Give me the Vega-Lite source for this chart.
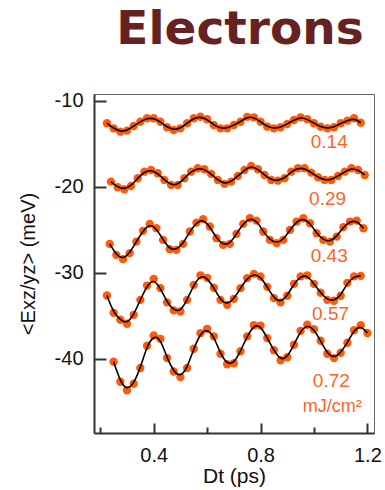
{
  "$schema": "https://vega.github.io/schema/vega-lite/v6.json",
  "width": 280,
  "height": 339,
  "autosize": {"type": "none"},
  "padding": {"left": 94, "top": 94, "right": 11, "bottom": 57},
  "background": "white",
  "title": {
    "text": "Electrons",
    "font": "DejaVu Sans",
    "fontSize": 47,
    "fontWeight": "bold",
    "color": "#662222",
    "anchor": "middle",
    "baseline": "alphabetic",
    "dx": 6,
    "offset": 0
  },
  "config": {
    "view": {"stroke": "#666666", "strokeWidth": 1},
    "axis": {
      "grid": false,
      "domainColor": "#333333",
      "domainWidth": 2,
      "tickColor": "#333333",
      "tickWidth": 2,
      "labelFont": "Liberation Sans",
      "labelFontSize": 20,
      "labelColor": "#111111",
      "titleFont": "Liberation Sans",
      "titleFontSize": 20,
      "titleFontWeight": "normal",
      "titleColor": "#111111"
    }
  },
  "datasets": {
    "dots": [
      {"s": "0.14", "t": 0.225, "v": -12.62}, {"s": "0.14", "t": 0.25, "v": -13.21}, {"s": "0.14", "t": 0.275, "v": -13.6}, {"s": "0.14", "t": 0.3, "v": -13.48},
      {"s": "0.14", "t": 0.325, "v": -12.94}, {"s": "0.14", "t": 0.35, "v": -12.44}, {"s": "0.14", "t": 0.375, "v": -12.04}, {"s": "0.14", "t": 0.4, "v": -12.04},
      {"s": "0.14", "t": 0.425, "v": -12.44}, {"s": "0.14", "t": 0.45, "v": -13.09}, {"s": "0.14", "t": 0.475, "v": -13.4}, {"s": "0.14", "t": 0.5, "v": -13.21},
      {"s": "0.14", "t": 0.525, "v": -12.62}, {"s": "0.14", "t": 0.55, "v": -12.04}, {"s": "0.14", "t": 0.575, "v": -11.86}, {"s": "0.14", "t": 0.6, "v": -12.16},
      {"s": "0.14", "t": 0.625, "v": -12.82}, {"s": "0.14", "t": 0.65, "v": -13.21}, {"s": "0.14", "t": 0.675, "v": -13.21}, {"s": "0.14", "t": 0.7, "v": -12.82},
      {"s": "0.14", "t": 0.725, "v": -12.45}, {"s": "0.14", "t": 0.75, "v": -11.88}, {"s": "0.14", "t": 0.775, "v": -11.93}, {"s": "0.14", "t": 0.8, "v": -12.44},
      {"s": "0.14", "t": 0.825, "v": -13.02}, {"s": "0.14", "t": 0.85, "v": -13.21}, {"s": "0.14", "t": 0.875, "v": -13.09}, {"s": "0.14", "t": 0.9, "v": -12.71},
      {"s": "0.14", "t": 0.925, "v": -12.24}, {"s": "0.14", "t": 0.95, "v": -11.93}, {"s": "0.14", "t": 0.975, "v": -12.16}, {"s": "0.14", "t": 1.0, "v": -12.62},
      {"s": "0.14", "t": 1.025, "v": -13.02}, {"s": "0.14", "t": 1.05, "v": -13.21}, {"s": "0.14", "t": 1.075, "v": -13.09}, {"s": "0.14", "t": 1.1, "v": -12.62},
      {"s": "0.14", "t": 1.125, "v": -12.32}, {"s": "0.14", "t": 1.15, "v": -12.04}, {"s": "0.14", "t": 1.175, "v": -12.56},

      {"s": "0.29", "t": 0.24, "v": -19.41}, {"s": "0.29", "t": 0.265, "v": -20.06}, {"s": "0.29", "t": 0.29, "v": -20.29}, {"s": "0.29", "t": 0.315, "v": -19.91},
      {"s": "0.29", "t": 0.34, "v": -19.01}, {"s": "0.29", "t": 0.365, "v": -18.25}, {"s": "0.29", "t": 0.39, "v": -18.05}, {"s": "0.29", "t": 0.415, "v": -18.43},
      {"s": "0.29", "t": 0.44, "v": -19.21}, {"s": "0.29", "t": 0.465, "v": -19.79}, {"s": "0.29", "t": 0.49, "v": -19.79}, {"s": "0.29", "t": 0.515, "v": -19.01},
      {"s": "0.29", "t": 0.54, "v": -18.25}, {"s": "0.29", "t": 0.565, "v": -17.85}, {"s": "0.29", "t": 0.59, "v": -17.97}, {"s": "0.29", "t": 0.615, "v": -18.51},
      {"s": "0.29", "t": 0.64, "v": -19.21}, {"s": "0.29", "t": 0.665, "v": -19.67}, {"s": "0.29", "t": 0.69, "v": -19.41}, {"s": "0.29", "t": 0.715, "v": -18.75},
      {"s": "0.29", "t": 0.74, "v": -18.05}, {"s": "0.29", "t": 0.765, "v": -17.58}, {"s": "0.29", "t": 0.79, "v": -17.97}, {"s": "0.29", "t": 0.815, "v": -18.63},
      {"s": "0.29", "t": 0.84, "v": -19.21}, {"s": "0.29", "t": 0.865, "v": -19.29}, {"s": "0.29", "t": 0.89, "v": -19.01}, {"s": "0.29", "t": 0.915, "v": -18.25},
      {"s": "0.29", "t": 0.94, "v": -17.85}, {"s": "0.29", "t": 0.965, "v": -17.85}, {"s": "0.29", "t": 0.99, "v": -18.36}, {"s": "0.29", "t": 1.015, "v": -18.9},
      {"s": "0.29", "t": 1.04, "v": -19.21}, {"s": "0.29", "t": 1.065, "v": -19.21}, {"s": "0.29", "t": 1.09, "v": -18.75}, {"s": "0.29", "t": 1.115, "v": -18.25},
      {"s": "0.29", "t": 1.14, "v": -17.85}, {"s": "0.29", "t": 1.165, "v": -18.05}, {"s": "0.29", "t": 1.19, "v": -18.63},

      {"s": "0.43", "t": 0.235, "v": -26.64}, {"s": "0.43", "t": 0.26, "v": -27.92}, {"s": "0.43", "t": 0.285, "v": -28.42}, {"s": "0.43", "t": 0.31, "v": -27.72},
      {"s": "0.43", "t": 0.335, "v": -26.38}, {"s": "0.43", "t": 0.36, "v": -25.13}, {"s": "0.43", "t": 0.385, "v": -24.32}, {"s": "0.43", "t": 0.41, "v": -24.82},
      {"s": "0.43", "t": 0.435, "v": -26.18}, {"s": "0.43", "t": 0.46, "v": -27.26}, {"s": "0.43", "t": 0.485, "v": -27.34}, {"s": "0.43", "t": 0.51, "v": -26.64},
      {"s": "0.43", "t": 0.535, "v": -25.21}, {"s": "0.43", "t": 0.56, "v": -24.17}, {"s": "0.43", "t": 0.585, "v": -23.77}, {"s": "0.43", "t": 0.61, "v": -24.63},
      {"s": "0.43", "t": 0.635, "v": -25.98}, {"s": "0.43", "t": 0.66, "v": -26.76}, {"s": "0.43", "t": 0.685, "v": -26.64}, {"s": "0.43", "t": 0.71, "v": -25.48},
      {"s": "0.43", "t": 0.735, "v": -24.32}, {"s": "0.43", "t": 0.76, "v": -23.66}, {"s": "0.43", "t": 0.785, "v": -23.94}, {"s": "0.43", "t": 0.81, "v": -25.21},
      {"s": "0.43", "t": 0.835, "v": -26.18}, {"s": "0.43", "t": 0.86, "v": -26.56}, {"s": "0.43", "t": 0.885, "v": -26.18}, {"s": "0.43", "t": 0.91, "v": -25.02},
      {"s": "0.43", "t": 0.935, "v": -24.05}, {"s": "0.43", "t": 0.96, "v": -23.66}, {"s": "0.43", "t": 0.985, "v": -24.24}, {"s": "0.43", "t": 1.01, "v": -25.4},
      {"s": "0.43", "t": 1.035, "v": -26.18}, {"s": "0.43", "t": 1.06, "v": -26.38}, {"s": "0.43", "t": 1.085, "v": -25.8}, {"s": "0.43", "t": 1.11, "v": -24.7},
      {"s": "0.43", "t": 1.135, "v": -24.05}, {"s": "0.43", "t": 1.16, "v": -23.94}, {"s": "0.43", "t": 1.185, "v": -24.82},

      {"s": "0.57", "t": 0.225, "v": -32.65}, {"s": "0.57", "t": 0.25, "v": -34.66}, {"s": "0.57", "t": 0.275, "v": -35.47}, {"s": "0.57", "t": 0.3, "v": -35.93},
      {"s": "0.57", "t": 0.325, "v": -34.89}, {"s": "0.57", "t": 0.35, "v": -33.15}, {"s": "0.57", "t": 0.375, "v": -31.49}, {"s": "0.57", "t": 0.4, "v": -30.71},
      {"s": "0.57", "t": 0.425, "v": -31.79}, {"s": "0.57", "t": 0.45, "v": -33.44}, {"s": "0.57", "t": 0.475, "v": -34.37}, {"s": "0.57", "t": 0.5, "v": -34.51},
      {"s": "0.57", "t": 0.525, "v": -33.15}, {"s": "0.57", "t": 0.55, "v": -31.41}, {"s": "0.57", "t": 0.575, "v": -30.3}, {"s": "0.57", "t": 0.6, "v": -30.59},
      {"s": "0.57", "t": 0.625, "v": -31.75}, {"s": "0.57", "t": 0.65, "v": -33.15}, {"s": "0.57", "t": 0.675, "v": -33.73}, {"s": "0.57", "t": 0.7, "v": -33.03},
      {"s": "0.57", "t": 0.725, "v": -31.79}, {"s": "0.57", "t": 0.75, "v": -30.63}, {"s": "0.57", "t": 0.775, "v": -30.13}, {"s": "0.57", "t": 0.8, "v": -30.44},
      {"s": "0.57", "t": 0.825, "v": -31.64}, {"s": "0.57", "t": 0.85, "v": -32.95}, {"s": "0.57", "t": 0.875, "v": -33.44}, {"s": "0.57", "t": 0.9, "v": -32.68},
      {"s": "0.57", "t": 0.925, "v": -31.29}, {"s": "0.57", "t": 0.95, "v": -30.42}, {"s": "0.57", "t": 0.975, "v": -30.3}, {"s": "0.57", "t": 1.0, "v": -31.29},
      {"s": "0.57", "t": 1.025, "v": -32.33}, {"s": "0.57", "t": 1.05, "v": -33.15}, {"s": "0.57", "t": 1.075, "v": -33.26}, {"s": "0.57", "t": 1.1, "v": -32.68},
      {"s": "0.57", "t": 1.125, "v": -31.17}, {"s": "0.57", "t": 1.15, "v": -30.42}, {"s": "0.57", "t": 1.175, "v": -30.36},

      {"s": "0.72", "t": 0.25, "v": -40.35}, {"s": "0.72", "t": 0.275, "v": -42.67}, {"s": "0.72", "t": 0.3, "v": -43.66}, {"s": "0.72", "t": 0.325, "v": -42.9},
      {"s": "0.72", "t": 0.35, "v": -41.08}, {"s": "0.72", "t": 0.375, "v": -38.49}, {"s": "0.72", "t": 0.4, "v": -37.29}, {"s": "0.72", "t": 0.425, "v": -37.68},
      {"s": "0.72", "t": 0.45, "v": -39.92}, {"s": "0.72", "t": 0.475, "v": -41.48}, {"s": "0.72", "t": 0.5, "v": -42.13}, {"s": "0.72", "t": 0.525, "v": -41.08},
      {"s": "0.72", "t": 0.55, "v": -38.84}, {"s": "0.72", "t": 0.575, "v": -37.02}, {"s": "0.72", "t": 0.6, "v": -36.52}, {"s": "0.72", "t": 0.625, "v": -37.39},
      {"s": "0.72", "t": 0.65, "v": -39.42}, {"s": "0.72", "t": 0.675, "v": -40.64}, {"s": "0.72", "t": 0.7, "v": -40.52}, {"s": "0.72", "t": 0.725, "v": -39.13},
      {"s": "0.72", "t": 0.75, "v": -37.39}, {"s": "0.72", "t": 0.775, "v": -36.11}, {"s": "0.72", "t": 0.8, "v": -36.14}, {"s": "0.72", "t": 0.825, "v": -37.6},
      {"s": "0.72", "t": 0.85, "v": -39.01}, {"s": "0.72", "t": 0.875, "v": -40.17}, {"s": "0.72", "t": 0.9, "v": -39.83}, {"s": "0.72", "t": 0.925, "v": -38.37},
      {"s": "0.72", "t": 0.95, "v": -36.75}, {"s": "0.72", "t": 0.975, "v": -36.05}, {"s": "0.72", "t": 1.0, "v": -36.57}, {"s": "0.72", "t": 1.025, "v": -37.91},
      {"s": "0.72", "t": 1.05, "v": -39.42}, {"s": "0.72", "t": 1.075, "v": -39.92}, {"s": "0.72", "t": 1.1, "v": -39.3}, {"s": "0.72", "t": 1.125, "v": -38.14},
      {"s": "0.72", "t": 1.15, "v": -36.69}, {"s": "0.72", "t": 1.175, "v": -36.11}, {"s": "0.72", "t": 1.2, "v": -37.01}
    ],
    "notes": [
      {"label": "0.14", "t": 1.057, "v": -14.76},
      {"label": "0.29", "t": 1.051, "v": -21.42},
      {"label": "0.43", "t": 1.057, "v": -28.04},
      {"label": "0.57", "t": 1.062, "v": -34.77},
      {"label": "0.72", "t": 1.065, "v": -42.55},
      {"label": "mJ/cm²", "t": 1.068, "v": -45.66}
    ]
  },
  "layer": [
    {
      "mark": {
        "type": "rect",
        "fill": {
          "gradient": "linear",
          "x1": 0, "y1": 0, "x2": 1, "y2": 1,
          "stops": [
            {"offset": 0, "color": "#ffffff"},
            {"offset": 0.35, "color": "#ffffff"},
            {"offset": 0.55, "color": "#f1f1f1"},
            {"offset": 1, "color": "#cbcbcb"}
          ]
        }
      },
      "encoding": {
        "x": {"datum": 0.1765, "type": "quantitative", "scale": {"domain": [0.1765, 1.2247], "nice": false, "zero": false}},
        "x2": {"datum": 1.2247},
        "y": {"datum": -48.63, "type": "quantitative", "scale": {"domain": [-48.63, -9.22], "nice": false, "zero": false}},
        "y2": {"datum": -9.22}
      }
    },
    {
      "data": {"name": "dots"},
      "mark": {"type": "circle", "size": 70, "opacity": 1, "color": "#ff5a08"},
      "encoding": {
        "x": {
          "field": "t", "type": "quantitative",
          "axis": {
            "values": [0.2, 0.4, 0.6, 0.8, 1.0, 1.2],
            "format": ".1f",
            "labelExpr": "round(datum.value * 10) % 4 == 0 ? datum.label : ''",
            "tickSize": {"condition": {"test": "round(datum.value * 10) % 4 == 0", "value": -10}, "value": -6},
            "labelPadding": 22,
            "title": "Dt (ps)",
            "titleFontSize": 21,
            "titleBaseline": "middle",
            "titleY": 43
          }
        },
        "y": {
          "field": "v", "type": "quantitative",
          "axis": {
            "values": [-10, -20, -30, -40],
            "labelExpr": "datum.value < 0 ? '-' + format(abs(datum.value), 'd') : datum.label",
            "tickSize": -12,
            "labelPadding": 23,
            "title": "<Exz/yz> (meV)",
            "titleBaseline": "middle",
            "titleX": -66
          }
        }
      }
    },
    {
      "data": {"name": "dots"},
      "mark": {"type": "line", "interpolate": "basis", "color": "#000000", "strokeWidth": 1.6},
      "encoding": {
        "x": {"field": "t", "type": "quantitative"},
        "y": {"field": "v", "type": "quantitative"},
        "detail": {"field": "s"}
      }
    },
    {
      "data": {"name": "notes"},
      "mark": {"type": "text", "font": "Liberation Sans", "color": "#ff6424", "align": "center", "baseline": "middle"},
      "encoding": {
        "x": {"field": "t", "type": "quantitative"},
        "y": {"field": "v", "type": "quantitative"},
        "text": {"field": "label"},
        "size": {"condition": {"test": "datum.label == 'mJ/cm²'", "value": 18}, "value": 19}
      }
    }
  ]
}
